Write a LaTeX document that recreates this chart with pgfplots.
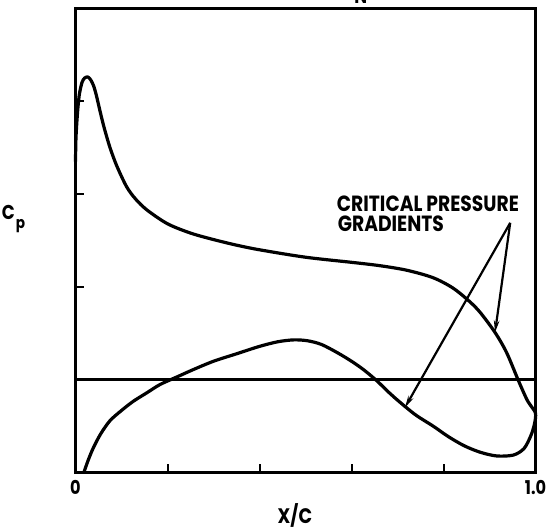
\documentclass[border=0pt]{standalone}
\usepackage{pgfplots}
\pgfplotsset{compat=1.18}
\usepackage{fontspec}
\usetikzlibrary{arrows.meta}
\newfontfamily\lbl{Poppins}[FakeStretch=0.85]

\begin{document}
\begin{tikzpicture}
\begin{axis}[
  scale only axis,
  width=460pt, height=464.4pt,
  xmin=0, xmax=1, ymin=0, ymax=5,
  axis line style={line width=2.8pt},
  xtick={0,0.2,0.4,0.6,0.8,1},
  xticklabels={0,,,,,1.0},
  ytick={1,2,3,4},
  yticklabels={},
  xtick pos=bottom, ytick pos=left,
  tick align=inside,
  major tick length=9pt,
  tick style={line width=2pt, black},
  xticklabel style={font=\lbl\bfseries\fontsize{19}{19}\selectfont, yshift=-4pt},
  clip=false,
]
% pressure distribution: lower branch then upper branch back to the nose
\addplot[line width=3.2pt, smooth, tension=0.5, line join=round] coordinates {
  (0.018,0.00) (0.028,0.14) (0.039,0.27) (0.055,0.42) (0.075,0.56)
  (0.100,0.67) (0.126,0.77) (0.155,0.86) (0.184,0.95) (0.220,1.03)
  (0.256,1.11) (0.300,1.20) (0.350,1.28) (0.400,1.36) (0.440,1.41)
  (0.475,1.43) (0.505,1.42) (0.535,1.38) (0.570,1.29) (0.600,1.20)
  (0.626,1.11) (0.655,0.99) (0.680,0.87) (0.705,0.76) (0.740,0.62)
  (0.778,0.50) (0.810,0.39) (0.845,0.29) (0.880,0.22) (0.916,0.18)
  (0.952,0.19) (0.975,0.26) (0.990,0.40) (0.998,0.53) (1.000,0.64)
  (0.990,0.72) (0.981,0.79) (0.963,0.99) (0.937,1.295) (0.912,1.51)
  (0.879,1.73) (0.854,1.855) (0.820,1.99) (0.777,2.10) (0.720,2.18)
  (0.660,2.23) (0.600,2.265) (0.500,2.32) (0.400,2.40) (0.350,2.45)
  (0.300,2.51) (0.250,2.58) (0.200,2.68) (0.155,2.83) (0.130,2.95)
  (0.111,3.08) (0.090,3.30) (0.075,3.50) (0.062,3.72) (0.053,3.90)
  (0.045,4.07) (0.039,4.17) (0.033,4.23) (0.027,4.26) (0.020,4.25)
  (0.014,4.20) (0.008,4.06) (0.004,3.85) (0.001,3.60) (0.000,3.35)
};
% critical pressure level
\addplot[line width=2.8pt] coordinates {(0,1) (1,1)};

% annotation
\node[anchor=base west, font=\lbl\bfseries\fontsize{22}{22}\selectfont, inner sep=0pt]
  at (axis cs:0.568,2.813) {CRITICAL PRESSURE};
\node[anchor=base west, font=\lbl\bfseries\fontsize{22}{22}\selectfont, inner sep=0pt]
  at (axis cs:0.570,2.597) {GRADIENTS};
\draw[line width=2.2pt, -{Stealth[length=12pt,width=5.5pt]}]
  (axis cs:0.945,2.69) -- (axis cs:0.716,0.70);
\draw[line width=2.2pt, -{Stealth[length=12pt,width=5.5pt]}]
  (axis cs:0.945,2.69) -- (axis cs:0.912,1.51);

% axis titles
\node[anchor=center, font=\lbl\bfseries\fontsize{21}{21}\selectfont]
  at ([yshift=-42.3pt]rel axis cs:0.477,0) {X/C};
\node[anchor=center, font=\lbl\bfseries\fontsize{20}{20}\selectfont]
  at ([xshift=-62pt]rel axis cs:0,0.546) {C\hspace{1pt}\raisebox{-9pt}{\fontsize{16}{16}\selectfont p}};
\node[anchor=base, font=\lbl\bfseries\fontsize{20}{20}\selectfont, inner sep=0pt]
  at ([yshift=4.3pt]rel axis cs:0.62,1) {N};
\end{axis}
\pgfresetboundingbox
\path (-75.5pt,-56.3pt) rectangle (472.5pt,472.7pt);
\end{tikzpicture}
\end{document}
